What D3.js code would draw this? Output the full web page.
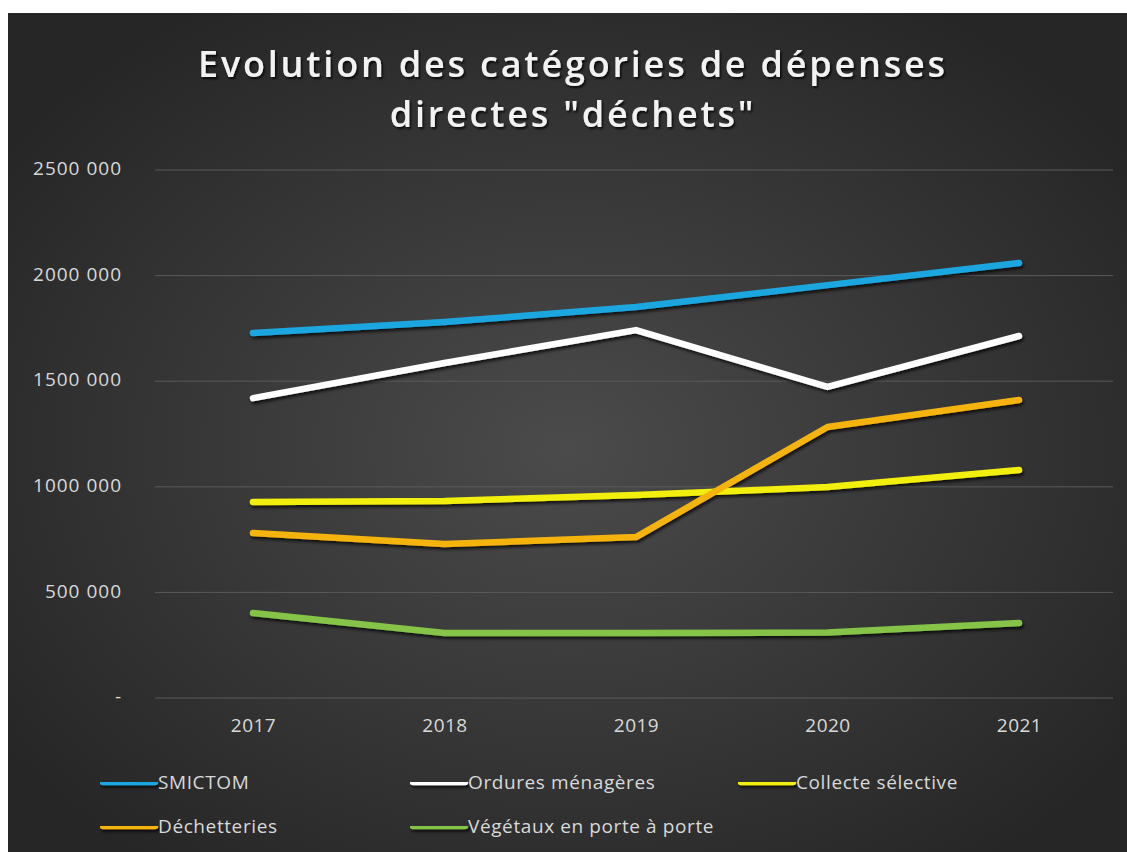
<!DOCTYPE html>
<html>
<head>
<meta charset="utf-8">
<script src="https://cdn.jsdelivr.net/npm/d3@7"></script>
<style>
  html, body { margin: 0; padding: 0; background: #ffffff; }
  svg { display: block; }
</style>
</head>
<body>
<div id="chart"></div>
<script>
// Data
const years = ["2017", "2018", "2019", "2020", "2021"];
const seriesNames = ["SMICTOM", "Ordures ménagères", "Collecte sélective", "Déchetteries", "Végétaux en porte à porte"];
const smictom = [1728000, 1780000, 1851000, 1955000, 2060000];
const orduresMenageres = [1420000, 1586000, 1742000, 1473000, 1714000];
const collecteSelective = [928000, 933000, 961000, 999000, 1080000];
const dechetteries = [781000, 729000, 762000, 1283000, 1411000];
const vegetaux = [402000, 308000, 308000, 310000, 355000];
const yTicks = [0, 500000, 1000000, 1500000, 2000000, 2500000];
const titleLines = ["Evolution des catégories de dépenses", "directes \"déchets\""];

const colors = ["#1ea6e0", "#ffffff", "#f2ee0a", "#f5b30f", "#86c448"];
const series = [smictom, orduresMenageres, collecteSelective, dechetteries, vegetaux];

const width = 1127, height = 852;
const svg = d3.select("#chart")
  .append("svg")
  .attr("width", width)
  .attr("height", height);

const defs = svg.append("defs");
const grad = defs.append("radialGradient")
  .attr("id", "bg")
  .attr("cx", "50%").attr("cy", "52%").attr("r", "62%");
grad.append("stop").attr("offset", "0%").attr("stop-color", "#4b4b4b");
grad.append("stop").attr("offset", "100%").attr("stop-color", "#262626");

// shadow in user space so flat legend lines still get drawn
const shadow = defs.append("filter").attr("id", "shadow")
  .attr("filterUnits", "userSpaceOnUse")
  .attr("x", 0).attr("y", 0).attr("width", width).attr("height", height);
shadow.append("feDropShadow")
  .attr("dx", 1.5).attr("dy", 2.5).attr("stdDeviation", 1.8)
  .attr("flood-color", "#000").attr("flood-opacity", 0.75);

const textShadow = defs.append("filter").attr("id", "tshadow")
  .attr("filterUnits", "userSpaceOnUse")
  .attr("x", 0).attr("y", 0).attr("width", width).attr("height", height);
textShadow.append("feDropShadow")
  .attr("dx", 1.5).attr("dy", 2).attr("stdDeviation", 1.2)
  .attr("flood-color", "#000").attr("flood-opacity", 0.8);

// Chart background
svg.append("rect")
  .attr("x", 8).attr("y", 13)
  .attr("width", width - 8).attr("height", height - 13)
  .attr("fill", "url(#bg)");

// Title
svg.append("g")
  .attr("filter", "url(#tshadow)")
  .selectAll("text")
  .data(titleLines)
  .enter().append("text")
  .attr("x", 573)
  .attr("y", (d, i) => 77 + i * 50)
  .attr("text-anchor", "middle")
  .attr("font-family", "Open Sans")
  .attr("font-weight", 600)
  .attr("font-size", 36)
  .attr("letter-spacing", 2.8)
  .attr("fill", "#f2f2f2")
  .text(d => d);

// Scales
const x = d3.scalePoint().domain(years).range([253, 1019]);
const y = d3.scaleLinear().domain([0, 2500000]).range([698, 170]);

// Gridlines
svg.append("g")
  .selectAll("line")
  .data(yTicks)
  .enter().append("line")
  .attr("x1", 155).attr("x2", 1113)
  .attr("y1", d => y(d)).attr("y2", d => y(d))
  .attr("stroke", "#5a5a5a")
  .attr("stroke-width", 1);

// Y axis
const yFormat = d => d === 0 ? "-" : (d / 1000) + "\u00a0" + String(d % 1000).padStart(3, "0");
const yAxis = svg.append("g")
  .attr("transform", "translate(122,0)")
  .call(d3.axisLeft(y).tickValues(yTicks).tickFormat(yFormat).tickSize(0).tickPadding(0));
yAxis.select(".domain").remove();
yAxis.selectAll("text")
  .attr("font-family", "Open Sans")
  .attr("font-size", 19)
  .attr("letter-spacing", 1)
  .attr("fill", "#d9d9d9")
  .attr("dy", "0.25em");

// X axis
const xAxis = svg.append("g")
  .attr("transform", "translate(0,718)")
  .call(d3.axisBottom(x).tickSize(0).tickPadding(0));
xAxis.select(".domain").remove();
xAxis.selectAll("text")
  .attr("font-family", "Open Sans")
  .attr("font-size", 19)
  .attr("letter-spacing", 0.5)
  .attr("fill", "#d9d9d9");

// Lines
const line = d3.line()
  .x((d, i) => x(years[i]))
  .y(d => y(d));

svg.append("g")
  .attr("filter", "url(#shadow)")
  .selectAll("path")
  .data(series)
  .enter().append("path")
  .attr("d", line)
  .attr("fill", "none")
  .attr("stroke", (d, i) => colors[i])
  .attr("stroke-width", 6.5)
  .attr("stroke-linecap", "round")
  .attr("stroke-linejoin", "round");

// Legend
const legendPos = [[100, 782], [410, 782], [738, 782], [100, 826], [410, 826]];
const legend = svg.append("g")
  .selectAll("g")
  .data(seriesNames)
  .enter().append("g")
  .attr("transform", (d, i) => `translate(${legendPos[i][0]}, ${legendPos[i][1]})`);

legend.append("line")
  .attr("x1", 3).attr("x2", 55)
  .attr("y1", 0).attr("y2", 0)
  .attr("stroke", (d, i) => colors[i])
  .attr("stroke-width", 6.5)
  .attr("stroke-linecap", "round")
  .attr("filter", "url(#shadow)");

legend.append("text")
  .attr("x", 58)
  .attr("dy", "0.36em")
  .attr("font-family", "Open Sans")
  .attr("font-size", 19)
  .attr("letter-spacing", 0.6)
  .attr("fill", "#d9d9d9")
  .text(d => d);
</script>
</body>
</html>
